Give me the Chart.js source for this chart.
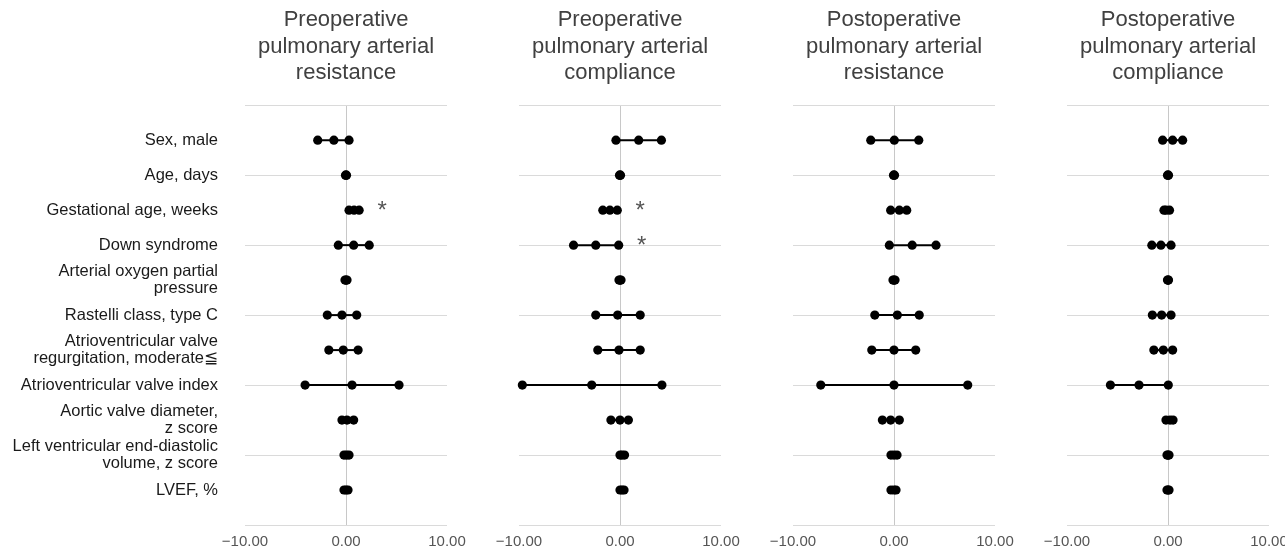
<!DOCTYPE html>
<html>
<head>
<meta charset="utf-8">
<script src="https://cdn.jsdelivr.net/npm/chart.js@4.4.0/dist/chart.umd.min.js"></script>
<style>
  body { margin: 0; background: #fff; }
  #wrap { position: relative; width: 1285px; height: 549px; overflow: hidden; }
  #wrap canvas { position: absolute; top: 0; }
</style>
</head>
<body>
<div id="wrap"></div>
<script>
// row labels (top to bottom)
const rowLabels = [
  'Sex, male',
  'Age, days',
  'Gestational age, weeks',
  'Down syndrome',
  ['Arterial oxygen partial', 'pressure'],
  'Rastelli class, type C',
  ['Atrioventricular valve', 'regurgitation, moderate\u2266'],
  'Atrioventricular valve index',
  ['Aortic valve diameter,', 'z score'],
  ['Left ventricular end-diastolic', 'volume, z score'],
  'LVEF, %'
];

const panelTitles = [
  ['Preoperative', 'pulmonary arterial', 'resistance'],
  ['Preoperative', 'pulmonary arterial', 'compliance'],
  ['Postoperative', 'pulmonary arterial', 'resistance'],
  ['Postoperative', 'pulmonary arterial', 'compliance']
];

const xTicks = [-10, 0, 10];

// Preoperative pulmonary arterial resistance
const preResLow  = [-2.8, -0.05, 0.3, -0.76, -0.1, -1.85, -1.7, -4.05, -0.4, -0.2, -0.2];
const preResEst  = [-1.2,  0.0,  0.8,  0.76,  0.0, -0.4, -0.27,  0.6,  0.1,  0.05, 0.0];
const preResHigh = [ 0.3,  0.05, 1.3,  2.3,   0.1,  1.06, 1.2,   5.25, 0.76, 0.3,  0.2];
const preResSig  = [0, 0, 1, 0, 0, 0, 0, 0, 0, 0, 0];

// Preoperative pulmonary arterial compliance
const preCompLow  = [-0.4, -0.05, -1.7, -4.6, -0.1, -2.4, -2.2, -9.67, -0.9, 0.0, 0.0];
const preCompEst  = [ 1.85, 0.0,  -1.0, -2.4,  0.0, -0.23, -0.1, -2.8,  0.0, 0.2, 0.2];
const preCompHigh = [ 4.1,  0.05, -0.27, -0.13, 0.1, 2.0,  2.0,  4.15,  0.83, 0.45, 0.4];
const preCompSig  = [0, 0, 1, 1, 0, 0, 0, 0, 0, 0, 0];

// Postoperative pulmonary arterial resistance
const postResLow  = [-2.3, -0.05, -0.33, -0.46, -0.1, -1.9, -2.2, -7.25, -1.15, -0.3, -0.3];
const postResEst  = [ 0.03, 0.0,   0.53,  1.8,   0.0,  0.33, 0.0,  0.0,  -0.33, 0.0,  0.0];
const postResHigh = [ 2.45, 0.05,  1.26,  4.16,  0.1,  2.5,  2.15, 7.3,   0.53, 0.3,  0.2];
const postResSig  = [0, 0, 0, 0, 0, 0, 0, 0, 0, 0, 0];

// Postoperative pulmonary arterial compliance
const postCompLow  = [-0.53, -0.05, -0.4, -1.6, -0.05, -1.55, -1.4, -5.7,  -0.2, -0.1, -0.1];
const postCompEst  = [ 0.46,  0.0,  -0.2, -0.7,  0.0,  -0.63, -0.46, -2.87, 0.2,  0.0,  0.0];
const postCompHigh = [ 1.45,  0.05,  0.15, 0.3,  0.05,  0.3,   0.46,  0.03, 0.5,  0.1,  0.1];
const postCompSig  = [0, 0, 0, 0, 0, 0, 0, 0, 0, 0, 0];

const panels = [
  { low: preResLow,   est: preResEst,   high: preResHigh,   sig: preResSig },
  { low: preCompLow,  est: preCompEst,  high: preCompHigh,  sig: preCompSig },
  { low: postResLow,  est: postResEst,  high: postResHigh,  sig: postResSig },
  { low: postCompLow, est: postCompEst, high: postCompHigh, sig: postCompSig }
];

// layout (pixels)
const W = 1285, H = 549;
const zeroX = [346, 620, 894, 1168];
const halfW = 101;
const FONT = "'Liberation Sans', Arial, Helvetica, sans-serif";

// star marker beside significant rows
function starPlugin(sig, high) {
  return {
    id: 'stars',
    afterDatasetsDraw(chart) {
      const ctx = chart.ctx;
      const x = chart.scales.x, y = chart.scales.y;
      ctx.save();
      ctx.fillStyle = '#555';
      ctx.font = '24px ' + FONT;
      ctx.textAlign = 'center';
      ctx.textBaseline = 'middle';
      sig.forEach((s, k) => {
        if (!s) return;
        ctx.fillText('*', x.getPixelForValue(high[k]) + 23, y.getPixelForValue(k + 1) + 1);
      });
      ctx.restore();
    }
  };
}

const wrap = document.getElementById('wrap');

panels.forEach((p, i) => {
  const left = i === 0 ? 0 : zeroX[i] - 137;
  const right = Math.min(zeroX[i] + 137, W);
  const canvas = document.createElement('canvas');
  canvas.width = right - left;
  canvas.height = H;
  canvas.style.left = left + 'px';
  wrap.appendChild(canvas);

  const areaLeft = zeroX[i] - halfW - left;
  const areaRight = right - (zeroX[i] + halfW);

  const datasets = rowLabels.map((lab, k) => ({
    data: [
      { x: p.low[k], y: k + 1 },
      { x: p.est[k], y: k + 1 },
      { x: p.high[k], y: k + 1 }
    ],
    showLine: true,
    clip: false,
    borderColor: '#000',
    borderWidth: 2,
    pointRadius: 4.6,
    pointBackgroundColor: '#000',
    pointBorderWidth: 0
  }));

  new Chart(canvas, {
    type: 'scatter',
    data: { datasets: datasets },
    options: {
      responsive: false,
      animation: false,
      layout: { padding: { left: 0, right: areaRight, top: 0, bottom: 0 } },
      plugins: {
        legend: { display: false },
        tooltip: { enabled: false },
        title: {
          display: true,
          text: panelTitles[i],
          fullSize: false,
          color: '#404040',
          font: { family: FONT, size: 22, weight: 'normal', lineHeight: 1.2 },
          padding: { top: 7, bottom: 19 }
        }
      },
      scales: {
        x: {
          type: 'linear',
          min: xTicks[0],
          max: xTicks[xTicks.length - 1],
          afterBuildTicks: (s) => { s.ticks = xTicks.map(v => ({ value: v })); },
          border: { display: false },
          grid: {
            drawTicks: false,
            color: (c) => (c.tick && c.tick.value === 0) ? '#c8c8c8' : 'rgba(0,0,0,0)'
          },
          ticks: {
            padding: 8,
            maxRotation: 0,
            autoSkip: false,
            color: '#555',
            font: { family: FONT, size: 15 },
            callback: (v) => (v < 0 ? '\u2212' : '') + Math.abs(v).toFixed(2)
          },
          afterFit: (s) => { s.height = 24; s.paddingLeft = 0; s.paddingRight = 0; }
        },
        y: {
          type: 'linear',
          min: 0,
          max: rowLabels.length + 1,
          reverse: true,
          border: { display: false },
          grid: {
            drawTicks: false,
            color: (c) => (c.tick && c.tick.value % 2 === 0) ? '#dadada' : 'rgba(0,0,0,0)'
          },
          ticks: {
            display: i === 0,
            stepSize: 1,
            autoSkip: false,
            padding: 27,
            color: '#1a1a1a',
            font: { family: FONT, size: 16.5, lineHeight: 1.05 },
            callback: (v) => rowLabels[v - 1] || ''
          },
          afterFit: (s) => { s.width = areaLeft; s.paddingTop = 0; s.paddingBottom = 0; }
        }
      }
    },
    plugins: [starPlugin(p.sig, p.high)]
  });
});
</script>
</body>
</html>
